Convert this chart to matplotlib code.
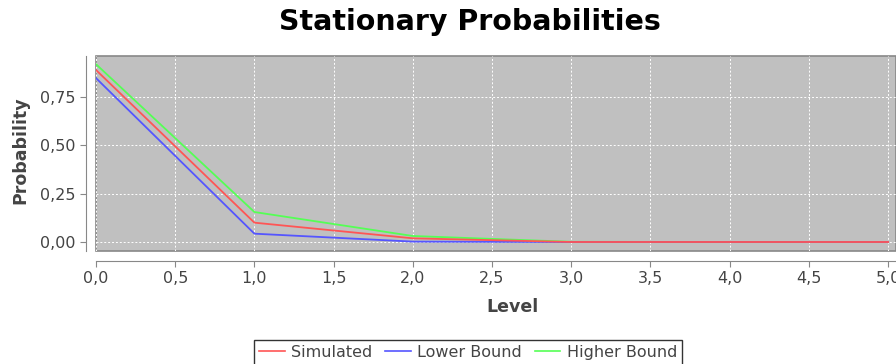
import numpy as np
import matplotlib
matplotlib.use('Agg')
import matplotlib.pyplot as plt
from matplotlib.ticker import FuncFormatter, MultipleLocator

# data
level = [0, 1, 2, 3, 4, 5]
simulated = [0.89, 0.10, 0.019, 0.0, 0.0, 0.0]
lower_bound = [0.848, 0.043, 0.002, 0.0, 0.0, 0.0]
higher_bound = [0.92, 0.155, 0.031, 0.001, 0.0, 0.0]

txt = '#444444'
plt.rcParams['font.family'] = ['DejaVu Sans']

fig = plt.figure(figsize=(8.96, 3.64), dpi=100)
ax = fig.add_axes([96/896, 1-251/364, 800/896, (251-55.5)/364])
ax.set_facecolor('#c0c0c0')

ax.plot(level, higher_bound, color='#55ff55', lw=1.3, label='Higher Bound', zorder=3)
ax.plot(level, lower_bound, color='#5555ff', lw=1.3, label='Lower Bound', zorder=3)
ax.plot(level, simulated, color='#ff5555', lw=1.3, label='Simulated', zorder=4)

ax.set_xlim(0, 5.05)
ax.set_ylim(-0.0466, 0.965)
ax.xaxis.set_major_locator(MultipleLocator(0.5))
ax.yaxis.set_major_locator(MultipleLocator(0.25))
ax.xaxis.set_major_formatter(FuncFormatter(lambda v, p: ('%.1f' % v).replace('.', ',')))
ax.yaxis.set_major_formatter(FuncFormatter(lambda v, p: ('%.2f' % v).replace('.', ',')))
ax.grid(True, color='white', linestyle=(0, (2, 2)), lw=0.7)
ax.set_axisbelow(True)

#JFreeChart style: outlined plot area, axis lines sitting a bit outside
ax.patch.set_edgecolor('#888888')
ax.patch.set_linewidth(1.2)
for s in ['top', 'right']:
    ax.spines[s].set_visible(False)
for s in ['left', 'bottom']:
    ax.spines[s].set_position(('outward', 7))
    ax.spines[s].set_color('#888888')
ax.tick_params(colors='#888888', labelcolor=txt, labelsize=11.5, length=4)

fig.text(470/896, 1-22/364, 'Stationary Probabilities', ha='center', va='center',
         fontsize=20.5, fontweight='bold', color='black')
fig.text(512/896, 1-307/364, 'Level', ha='center', va='center',
         fontsize=12.5, fontweight='bold', color=txt)
fig.text(20/896, 1-150/364, 'Probability', ha='center', va='center', rotation=90,
         fontsize=12.5, fontweight='bold', color=txt)

h, l = ax.get_legend_handles_labels()
order = [2, 1, 0]
leg = fig.legend([h[i] for i in order], [l[i] for i in order], loc='upper center',
                 bbox_to_anchor=(468/896, 1-332/364), ncol=3, fontsize=11.5,
                 frameon=True, fancybox=False, edgecolor='black', handlelength=1.6,
                 handletextpad=0.4, columnspacing=0.8, borderpad=0.3, labelcolor=txt)
leg.get_frame().set_linewidth(1.0)
for ln in leg.get_lines():
    ln.set_linewidth(1.2)

fig.savefig('out.png', dpi=100)
